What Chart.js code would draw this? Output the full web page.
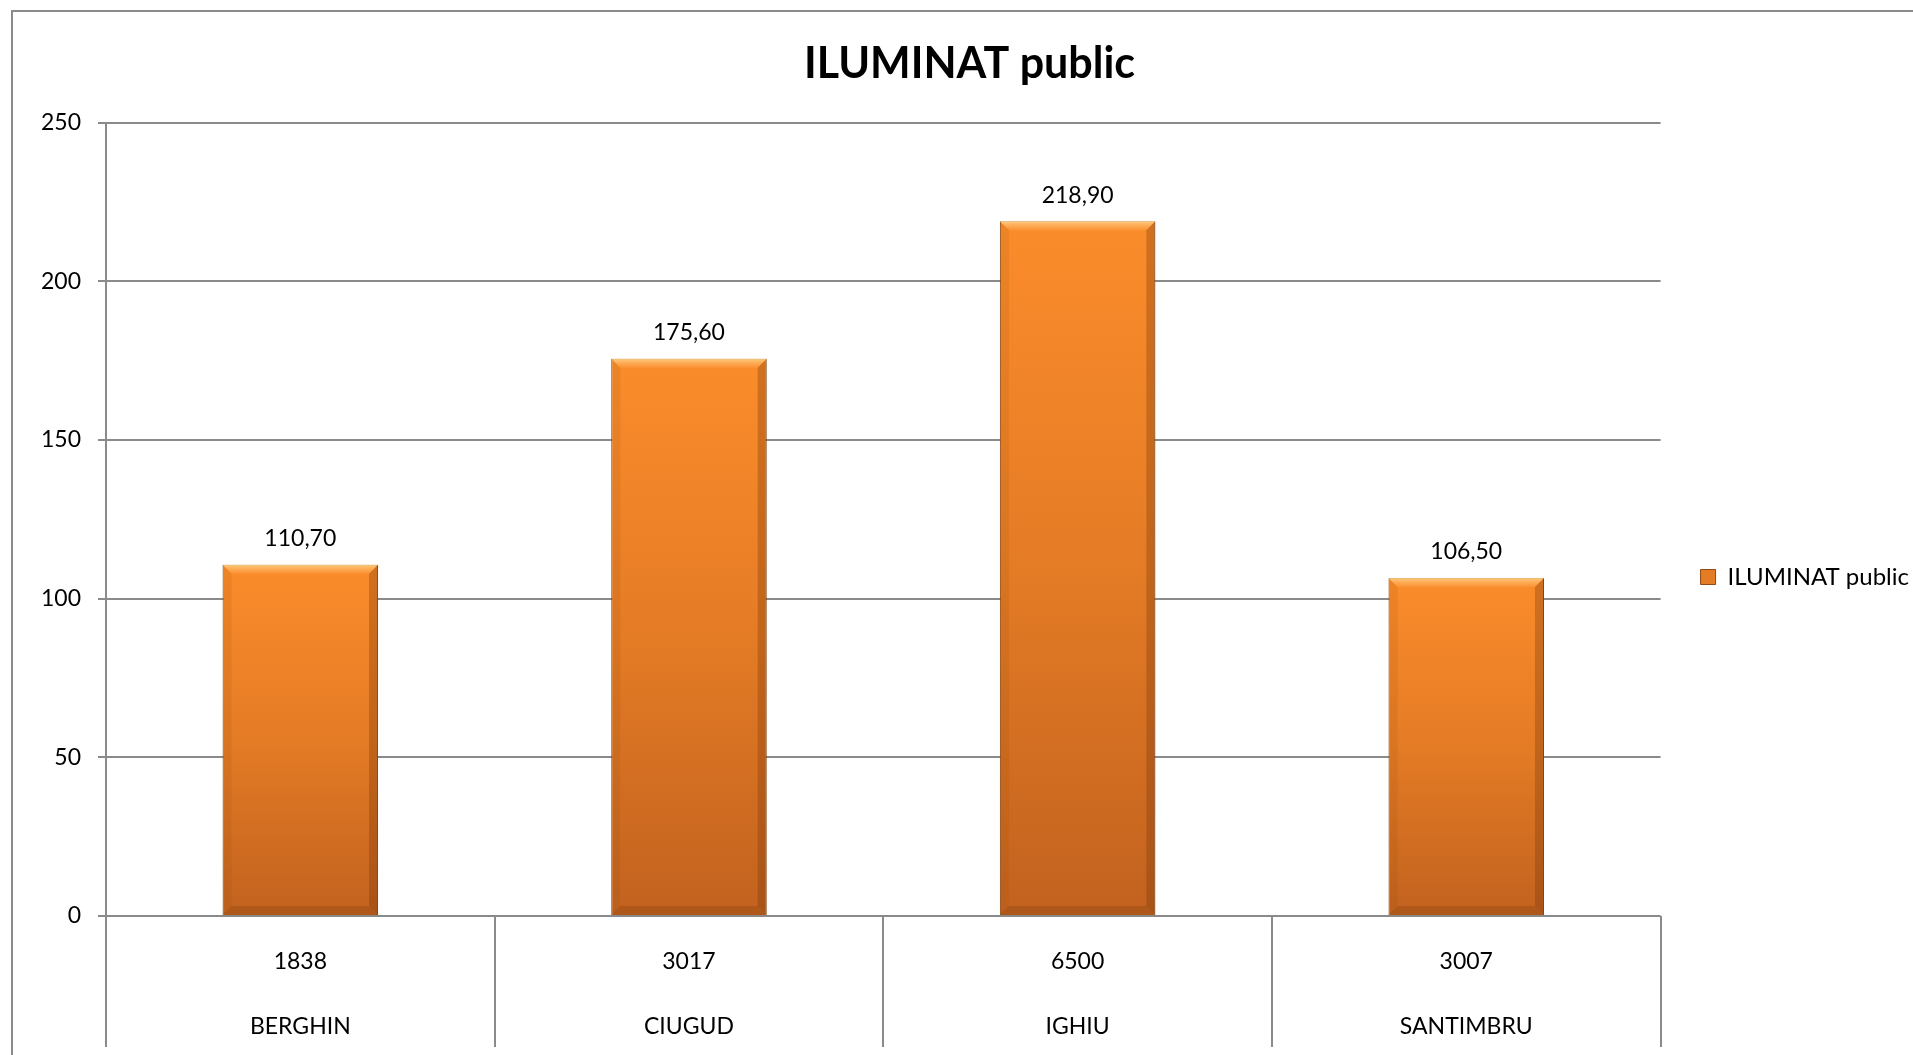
<!DOCTYPE html>
<html>
<head>
<meta charset="utf-8">
<title>ILUMINAT public</title>
<script src="https://cdn.jsdelivr.net/npm/chart.js@4.4.1/dist/chart.umd.min.js"></script>
<style>
    html, body {
        margin: 0;
        padding: 0;
        background: #fff;
        overflow: hidden;
    }
    #frame {
        position: absolute;
        left: 11px;
        top: 10px;
        width: 2100px;
        height: 1300px;
        border: 2px solid #8a8a8a;
    }
    #wrap {
        position: absolute;
        left: 0;
        top: 0;
        width: 1931px;
        height: 1144px;
    }
</style>
</head>
<body>
<div id="frame"></div>
<div id="wrap"><canvas id="lightChart"></canvas></div>
<script>
// Chart data
const villages = ['BERGHIN', 'CIUGUD', 'IGHIU', 'SANTIMBRU'];
const population = ['1838', '3017', '6500', '3007'];
const consumption = [110.7, 175.6, 218.9, 106.5];
const seriesName = 'ILUMINAT public';
const yTicks = [0, 50, 100, 150, 200, 250];

// Colors
const colors = {
    barTop: '#fb8c2b',
    barMid: '#e47b25',
    barBottom: '#c2621f',
    barEdge: '#8f4a15',
    grid: '#8a8a8a',
    text: '#000000'
};

Chart.defaults.font.family = 'Lato, "Open Sans", sans-serif';
Chart.defaults.color = colors.text;

function formatValue(v) {
    return v.toFixed(2).replace('.', ',');
}

// Bevel look of the Excel bars
const bevelPlugin = {
    id: 'bevel',
    afterDatasetsDraw(chart) {
        const ctx = chart.ctx;
        const meta = chart.getDatasetMeta(0);
        meta.data.forEach(bar => {
            const l = bar.x - bar.width / 2;
            const r = bar.x + bar.width / 2;
            const t = bar.y;
            const b = bar.base;
            const s = 9;
            ctx.save();
            // top edge highlight
            const gTop = ctx.createLinearGradient(0, t, 0, t + s);
            gTop.addColorStop(0, 'rgba(255, 214, 140, 0.85)');
            gTop.addColorStop(1, 'rgba(255, 190, 110, 0.15)');
            ctx.fillStyle = gTop;
            ctx.beginPath();
            ctx.moveTo(l, t); ctx.lineTo(r, t); ctx.lineTo(r - s, t + s); ctx.lineTo(l + s, t + s);
            ctx.closePath(); ctx.fill();
            // right edge shade
            ctx.fillStyle = 'rgba(110, 50, 5, 0.30)';
            ctx.beginPath();
            ctx.moveTo(r, t); ctx.lineTo(r, b); ctx.lineTo(r - s, b - s); ctx.lineTo(r - s, t + s);
            ctx.closePath(); ctx.fill();
            // left edge
            ctx.fillStyle = 'rgba(140, 70, 10, 0.12)';
            ctx.beginPath();
            ctx.moveTo(l, t); ctx.lineTo(l, b); ctx.lineTo(l + s, b - s); ctx.lineTo(l + s, t + s);
            ctx.closePath(); ctx.fill();
            // bottom edge
            ctx.fillStyle = 'rgba(110, 55, 10, 0.25)';
            ctx.beginPath();
            ctx.moveTo(l, b); ctx.lineTo(r, b); ctx.lineTo(r - s, b - s); ctx.lineTo(l + s, b - s);
            ctx.closePath(); ctx.fill();
            ctx.restore();
        });
    }
};

// Value labels above bars
const valueLabelPlugin = {
    id: 'valueLabels',
    afterDatasetsDraw(chart) {
        const ctx = chart.ctx;
        const meta = chart.getDatasetMeta(0);
        ctx.save();
        ctx.font = '23px Lato';
        ctx.fillStyle = colors.text;
        ctx.textAlign = 'center';
        ctx.textBaseline = 'middle';
        meta.data.forEach((bar, i) => {
            ctx.fillText(formatValue(consumption[i]), bar.x, bar.y - 26);
        });
        ctx.restore();
    }
};

function barGradient(context) {
    const chart = context.chart;
    const yScale = chart.scales.y;
    if (!chart.chartArea || !yScale || context.type !== 'data') {
        return colors.barMid;
    }
    const top = yScale.getPixelForValue(context.raw);
    const bottom = yScale.getPixelForValue(0);
    const g = chart.ctx.createLinearGradient(0, top, 0, bottom);
    g.addColorStop(0, colors.barTop);
    g.addColorStop(0.5, colors.barMid);
    g.addColorStop(1, colors.barBottom);
    return g;
}

const ctx = document.getElementById('lightChart');

new Chart(ctx, {
    type: 'bar',
    data: {
        labels: villages.map((v, i) => [population[i], v]),
        datasets: [{
            label: seriesName,
            data: consumption,
            backgroundColor: barGradient,
            borderColor: colors.barEdge,
            borderWidth: 1,
            categoryPercentage: 1,
            barPercentage: 0.4
        }]
    },
    options: {
        responsive: true,
        maintainAspectRatio: false,
        animation: false,
        layout: {
            padding: { left: 20, right: 12, top: 10, bottom: 0 }
        },
        plugins: {
            title: {
                display: true,
                text: seriesName,
                font: { size: 43, weight: 'bold' },
                color: colors.text,
                padding: { top: 28, bottom: 33 }
            },
            legend: {
                position: 'right',
                labels: {
                    boxWidth: 15,
                    boxHeight: 15,
                    padding: 40,
                    font: { size: 24 },
                    generateLabels: function(chart) {
                        const items = Chart.defaults.plugins.legend.labels.generateLabels(chart);
                        items.forEach(it => {
                            it.fillStyle = colors.barMid;
                            it.strokeStyle = colors.barEdge;
                            it.lineWidth = 1;
                        });
                        return items;
                    }
                }
            },
            tooltip: { enabled: false }
        },
        scales: {
            x: {
                afterFit: function(scale) {
                    scale.height = 228;
                },
                grid: {
                    offset: true,
                    drawOnChartArea: false,
                    tickLength: 131,
                    color: colors.grid,
                    lineWidth: 2
                },
                border: { display: false },
                ticks: {
                    autoSkip: false,
                    maxRotation: 0,
                    padding: -118,
                    font: { size: 23, lineHeight: 2.83 },
                    color: colors.text
                }
            },
            y: {
                min: 0,
                max: 250,
                afterFit: function(scale) {
                    scale.width = 86;
                },
                afterBuildTicks: function(scale) {
                    scale.ticks = yTicks.map(v => ({ value: v }));
                },
                grid: {
                    color: colors.grid,
                    lineWidth: 2,
                    tickLength: 8
                },
                border: { color: colors.grid, width: 2 },
                ticks: {
                    padding: 17,
                    font: { size: 23 },
                    color: colors.text
                }
            }
        }
    },
    plugins: [bevelPlugin, valueLabelPlugin]
});
</script>
</body>
</html>
